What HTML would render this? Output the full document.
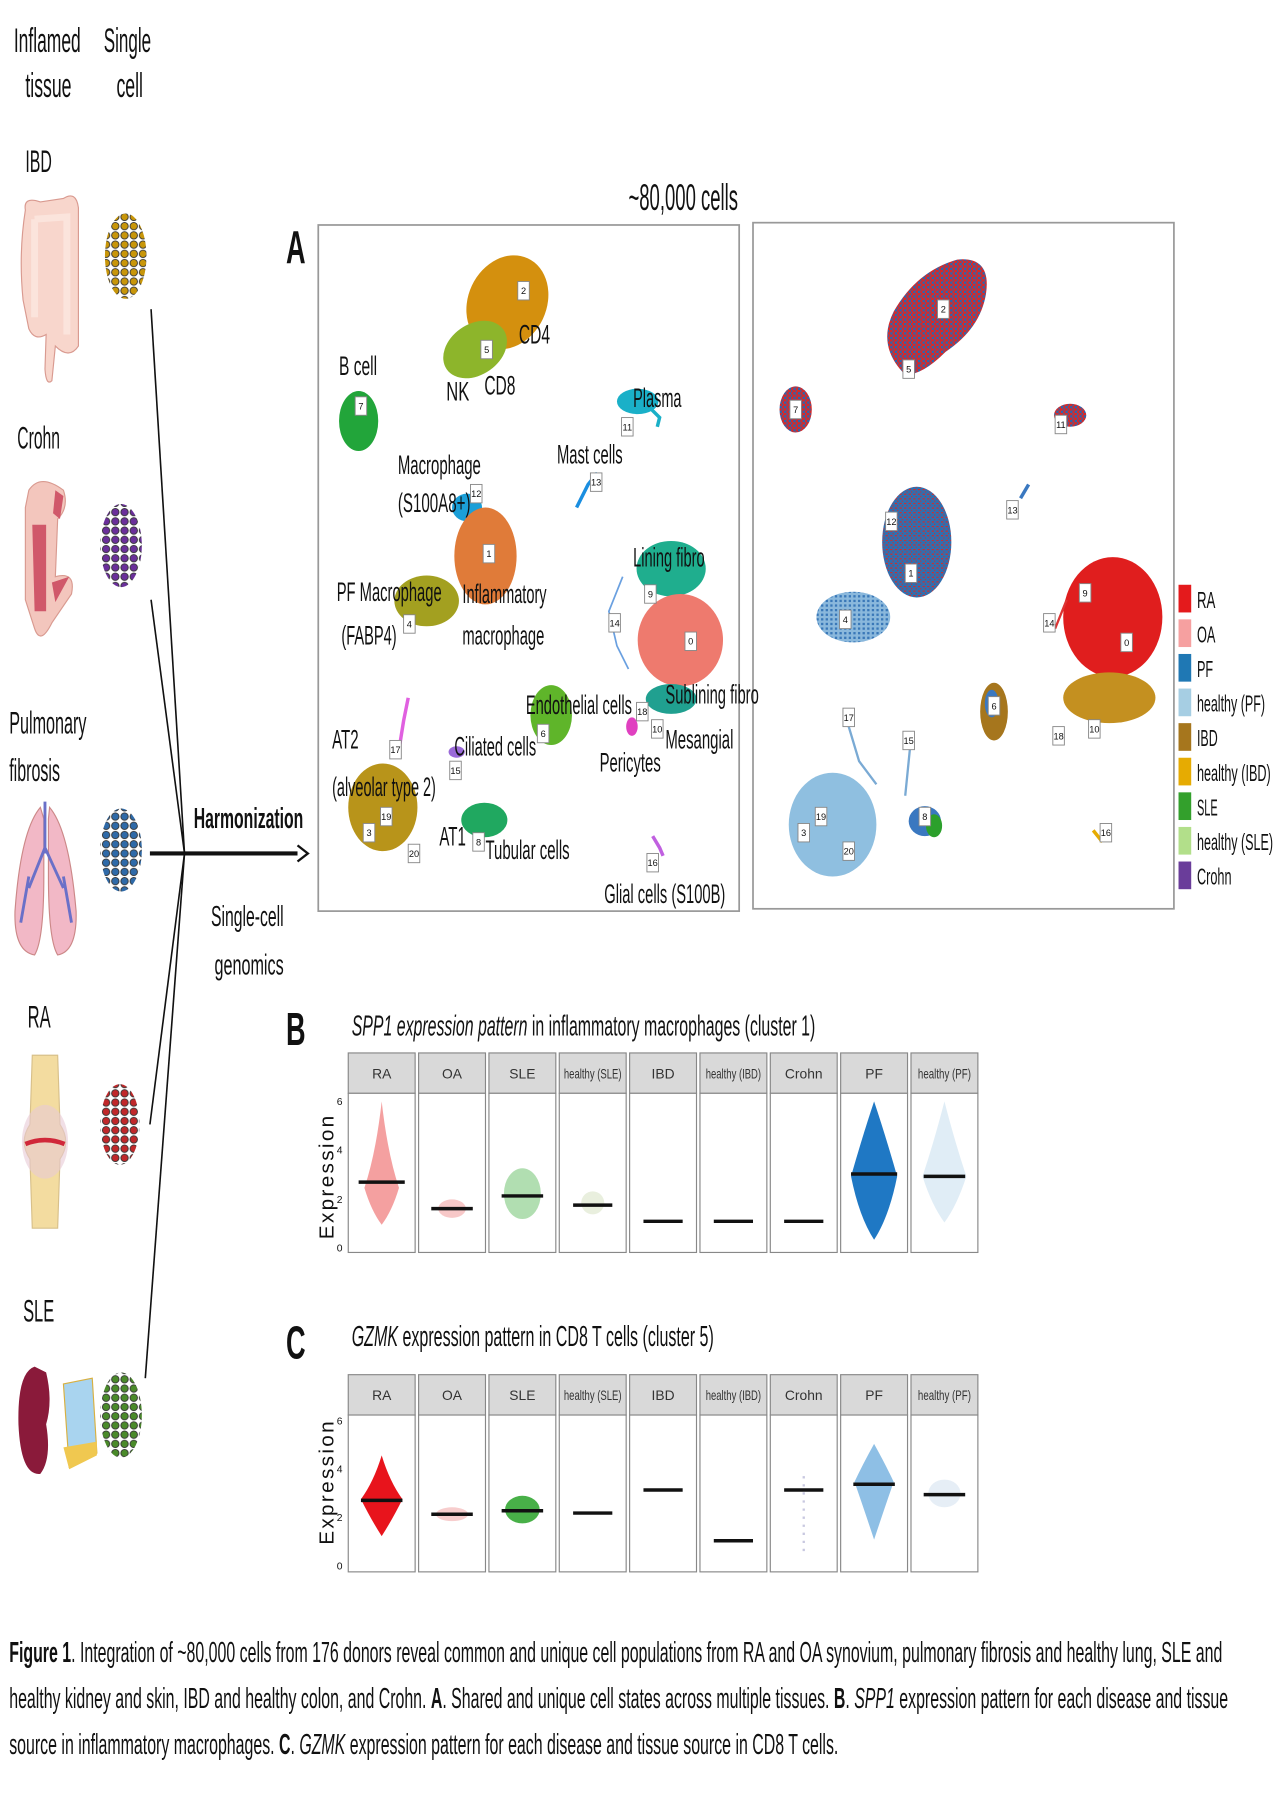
<!DOCTYPE html>
<html><head><meta charset="utf-8"><style>
html,body{margin:0;padding:0;background:#fff;}
svg{display:block;}
text{font-family:"Liberation Sans Narrow","Liberation Sans",sans-serif;fill:#111;}
.lb{font-size:23px;}
.nb rect{fill:#fff;stroke:#888;stroke-width:0.8;}
.nb text{font-size:8px;text-anchor:middle;}
.strip rect{fill:#d9d9d9;stroke:#888;stroke-width:1;}
.strip text{font-size:12px;text-anchor:middle;fill:#333;}
.pb{fill:#fff;stroke:#888;stroke-width:1;}
.tk{font-size:9px;fill:#555;}
</style></head><body>
<svg width="1280" height="1813" viewBox="0 0 1110 1572" xmlns="http://www.w3.org/2000/svg">
<defs>
<pattern id="pGold" width="8" height="8" patternUnits="userSpaceOnUse"><circle cx="4" cy="4" r="3.2" fill="#c8960a" stroke="#333" stroke-width="0.8"/></pattern>
<pattern id="pPurp" width="8" height="8" patternUnits="userSpaceOnUse"><circle cx="4" cy="4" r="3.2" fill="#6a2f9a" stroke="#333" stroke-width="0.8"/></pattern>
<pattern id="pBlue" width="8" height="8" patternUnits="userSpaceOnUse"><circle cx="4" cy="4" r="3.2" fill="#2f6aa8" stroke="#333" stroke-width="0.8"/></pattern>
<pattern id="pRed" width="8" height="8" patternUnits="userSpaceOnUse"><circle cx="4" cy="4" r="3.2" fill="#c0282a" stroke="#333" stroke-width="0.8"/></pattern>
<pattern id="pGreen" width="8" height="8" patternUnits="userSpaceOnUse"><circle cx="4" cy="4" r="3.2" fill="#4a8a2a" stroke="#333" stroke-width="0.8"/></pattern>
<pattern id="mixRB" width="4" height="4" patternUnits="userSpaceOnUse"><rect width="4" height="4" fill="#d42a2a"/><rect width="2" height="2" fill="#2a66b0"/><rect x="2" y="2" width="1" height="2" fill="#2a66b0"/></pattern>
<pattern id="mixBR" width="4" height="4" patternUnits="userSpaceOnUse"><rect width="4" height="4" fill="#2f6fb0"/><rect width="2" height="1" fill="#d42a2a"/><rect x="2" y="2" width="1" height="1" fill="#d42a2a"/></pattern>
<pattern id="mixLB" width="4" height="4" patternUnits="userSpaceOnUse"><rect width="4" height="4" fill="#8ab8dc"/><rect width="2" height="2" fill="#3a78b8"/></pattern>
</defs>

<!-- left headers -->
<text x="12" y="45" font-size="30" textLength="58" lengthAdjust="spacingAndGlyphs">Inflamed</text>
<text x="22" y="84" font-size="30" textLength="40" lengthAdjust="spacingAndGlyphs">tissue</text>
<text x="90" y="45" font-size="30" textLength="41" lengthAdjust="spacingAndGlyphs">Single</text>
<text x="101" y="84" font-size="30" textLength="23" lengthAdjust="spacingAndGlyphs">cell</text>

<text x="22" y="149" font-size="27" textLength="23" lengthAdjust="spacingAndGlyphs">IBD</text>
<text x="15" y="389" font-size="27" textLength="37" lengthAdjust="spacingAndGlyphs">Crohn</text>
<text x="8" y="636" font-size="27" textLength="67" lengthAdjust="spacingAndGlyphs">Pulmonary</text>
<text x="8" y="677" font-size="27" textLength="44" lengthAdjust="spacingAndGlyphs">fibrosis</text>
<text x="24" y="891" font-size="27" textLength="20" lengthAdjust="spacingAndGlyphs">RA</text>
<text x="20" y="1146" font-size="27" textLength="27" lengthAdjust="spacingAndGlyphs">SLE</text>

<!-- colon -->
<path d="M22 182 Q20 170 35 175 L55 172 Q66 165 68 180 L68 300 Q60 312 48 300 L45 330 Q40 335 39 320 L40 290 Q30 296 25 285 L20 260 Q16 220 22 182 Z" fill="#f8d6cc" stroke="#d99a90" stroke-width="1"/>
<path d="M30 190 L58 188 L58 290 M30 190 L30 275" fill="none" stroke="#fbe4dc" stroke-width="6"/>
<!-- crohn -->
<path d="M25 425 Q35 410 55 425 Q60 440 50 450 L48 500 Q66 495 62 515 L45 540 Q35 560 30 545 L22 520 L22 440 Z" fill="#f3c6bd" stroke="#d99a90" stroke-width="1"/>
<path d="M28 455 L40 455 L40 530 L30 530 Z M45 505 L60 500 L48 522 Z M48 425 L55 430 L52 450 L46 445Z" fill="#d0586a"/>
<!-- lungs -->
<path d="M35 700 Q18 720 13 790 Q12 825 30 828 Q38 815 38 760 L38 710 Z" fill="#f2b8c6" stroke="#c88" stroke-width="1"/>
<path d="M43 700 Q60 720 66 790 Q67 825 50 828 Q42 815 42 760 L42 710 Z" fill="#f2b8c6" stroke="#c88" stroke-width="1"/>
<path d="M39 695 L39 740 M39 735 L25 770 M39 735 L55 770 M25 760 L18 800 M55 760 L62 800" stroke="#6a70c8" stroke-width="2.5" fill="none"/>
<!-- joint -->
<path d="M28 915 L50 915 L52 975 Q62 990 52 1005 L50 1065 L28 1065 L26 1005 Q16 990 26 975 Z" fill="#f3dca0" stroke="#d8c08a"/>
<ellipse cx="39" cy="990" rx="20" ry="32" fill="#e8c9d6" opacity="0.6"/>
<path d="M22 992 Q39 985 56 992" stroke="#d0283a" stroke-width="4" fill="none"/>
<!-- kidney + skin -->
<path d="M30 1185 Q15 1190 16 1235 Q18 1280 35 1278 Q45 1265 40 1235 Q46 1215 40 1190 Z" fill="#8a1a3a"/>
<path d="M55 1200 L80 1195 L84 1260 L60 1272 Z" fill="#a9d4ef" stroke="#d8b040"/>
<path d="M55 1255 L84 1250 L84 1262 L60 1274 Z" fill="#f0c850"/>

<!-- cell clusters -->
<ellipse cx="109" cy="222" rx="18" ry="37" fill="url(#pGold)"/>
<ellipse cx="105" cy="473" rx="18" ry="36" fill="url(#pPurp)"/>
<ellipse cx="105" cy="737" rx="18" ry="36" fill="url(#pBlue)"/>
<ellipse cx="104" cy="975" rx="17" ry="35" fill="url(#pRed)"/>
<ellipse cx="105" cy="1227" rx="18" ry="37" fill="url(#pGreen)"/>

<!-- connector lines -->
<g stroke="#111" stroke-width="1.4" fill="none">
<line x1="131" y1="268" x2="160" y2="740"/>
<line x1="131" y1="520" x2="160" y2="740"/>
<line x1="130" y1="975" x2="160" y2="740"/>
<line x1="126" y1="1195" x2="160" y2="740"/>
</g>
<line x1="130" y1="740" x2="258" y2="740" stroke="#111" stroke-width="3.5"/>
<path d="M258 733 L267 740 L258 747" fill="none" stroke="#111" stroke-width="2"/>
<text x="168" y="718" font-size="25" font-weight="bold" textLength="95" lengthAdjust="spacingAndGlyphs">Harmonization</text>
<text x="183" y="803" font-size="25" textLength="63" lengthAdjust="spacingAndGlyphs">Single-cell</text>
<text x="186" y="845" font-size="25" textLength="60" lengthAdjust="spacingAndGlyphs">genomics</text>

<!-- Panel A -->
<text x="248" y="228" font-size="40" font-weight="bold" textLength="17" lengthAdjust="spacingAndGlyphs">A</text>
<text x="545" y="182" font-size="32" textLength="95" lengthAdjust="spacingAndGlyphs">~80,000 cells</text>
<rect x="276" y="195" width="365" height="595" fill="#fff" stroke="#999" stroke-width="1.5"/>
<rect x="653" y="193" width="365" height="595" fill="#fff" stroke="#999" stroke-width="1.5"/>

<!-- left UMAP blobs -->
<g>
<ellipse cx="440" cy="262" rx="34" ry="42" fill="#d4900e" transform="rotate(25 440 262)"/>
<ellipse cx="412" cy="303" rx="30" ry="22" fill="#8db52b" transform="rotate(-35 412 303)"/>
<ellipse cx="311" cy="365" rx="17" ry="26" fill="#22a53a"/>
<ellipse cx="553" cy="348" rx="18" ry="11" fill="#1ab0c8"/>
<path d="M560 350 L572 362 L570 370" stroke="#1ab0c8" stroke-width="3" fill="none"/>
<path d="M500 440 L510 420 L518 410" stroke="#1a8ee0" stroke-width="3" fill="none"/>
<ellipse cx="405" cy="440" rx="13" ry="12" fill="#1b9fd8"/>
<ellipse cx="421" cy="482" rx="27" ry="42" fill="#e07b39"/>
<ellipse cx="370" cy="521" rx="28" ry="22" fill="#a3a020"/>
<ellipse cx="582" cy="493" rx="30" ry="24" fill="#1fae8e"/>
<ellipse cx="590" cy="555" rx="37" ry="40" fill="#ee7a6e"/>
<ellipse cx="582" cy="606" rx="22" ry="13" fill="#20a090"/>
<path d="M540 500 L528 530 L535 560 L545 580" stroke="#6aa0e0" stroke-width="1.5" fill="none"/>
<ellipse cx="478" cy="620" rx="18" ry="26" fill="#5fb52a"/>
<ellipse cx="548" cy="630" rx="5" ry="8" fill="#e040c0"/>
<path d="M354 605 L350 625 L346 650" stroke="#e060e0" stroke-width="3" fill="none"/>
<ellipse cx="396" cy="652" rx="7" ry="5" fill="#9a6ad8"/>
<ellipse cx="332" cy="700" rx="30" ry="38" fill="#b8941a"/>
<ellipse cx="420" cy="711" rx="20" ry="15" fill="#20a860"/>
<path d="M566 725 L572 735 L575 742" stroke="#c060e0" stroke-width="3" fill="none"/>
</g>
<g class="nb">
<g transform="translate(454,252)"><rect x="-5" y="-8" width="10" height="16"/><text y="3">2</text></g>
<g transform="translate(422,303)"><rect x="-5" y="-8" width="10" height="16"/><text y="3">5</text></g>
<g transform="translate(313,352)"><rect x="-5" y="-8" width="10" height="16"/><text y="3">7</text></g>
<g transform="translate(544,370)"><rect x="-5" y="-8" width="10" height="16"/><text y="3">11</text></g>
<g transform="translate(517,418)"><rect x="-5" y="-8" width="10" height="16"/><text y="3">13</text></g>
<g transform="translate(413,428)"><rect x="-5" y="-8" width="10" height="16"/><text y="3">12</text></g>
<g transform="translate(424,480)"><rect x="-5" y="-8" width="10" height="16"/><text y="3">1</text></g>
<g transform="translate(355,541)"><rect x="-5" y="-8" width="10" height="16"/><text y="3">4</text></g>
<g transform="translate(564,515)"><rect x="-5" y="-8" width="10" height="16"/><text y="3">9</text></g>
<g transform="translate(533,540)"><rect x="-5" y="-8" width="10" height="16"/><text y="3">14</text></g>
<g transform="translate(599,556)"><rect x="-5" y="-8" width="10" height="16"/><text y="3">0</text></g>
<g transform="translate(557,617)"><rect x="-5" y="-8" width="10" height="16"/><text y="3">18</text></g>
<g transform="translate(570,632)"><rect x="-5" y="-8" width="10" height="16"/><text y="3">10</text></g>
<g transform="translate(471,636)"><rect x="-5" y="-8" width="10" height="16"/><text y="3">6</text></g>
<g transform="translate(343,650)"><rect x="-5" y="-8" width="10" height="16"/><text y="3">17</text></g>
<g transform="translate(395,668)"><rect x="-5" y="-8" width="10" height="16"/><text y="3">15</text></g>
<g transform="translate(335,708)"><rect x="-5" y="-8" width="10" height="16"/><text y="3">19</text></g>
<g transform="translate(320,722)"><rect x="-5" y="-8" width="10" height="16"/><text y="3">3</text></g>
<g transform="translate(359,740)"><rect x="-5" y="-8" width="10" height="16"/><text y="3">20</text></g>
<g transform="translate(415,730)"><rect x="-5" y="-8" width="10" height="16"/><text y="3">8</text></g>
<g transform="translate(566,748)"><rect x="-5" y="-8" width="10" height="16"/><text y="3">16</text></g>
</g>
<g class="lb">
<text x="450" y="298" textLength="27" lengthAdjust="spacingAndGlyphs">CD4</text>
<text x="387" y="347" textLength="20" lengthAdjust="spacingAndGlyphs">NK</text>
<text x="420" y="342" textLength="27" lengthAdjust="spacingAndGlyphs">CD8</text>
<text x="294" y="325" textLength="33" lengthAdjust="spacingAndGlyphs">B cell</text>
<text x="549" y="353" textLength="42" lengthAdjust="spacingAndGlyphs">Plasma</text>
<text x="483" y="402" textLength="57" lengthAdjust="spacingAndGlyphs">Mast cells</text>
<text x="345" y="411" textLength="72" lengthAdjust="spacingAndGlyphs">Macrophage</text>
<text x="345" y="444" textLength="63" lengthAdjust="spacingAndGlyphs">(S100A8+)</text>
<text x="401" y="523" textLength="73" lengthAdjust="spacingAndGlyphs">Inflammatory</text>
<text x="401" y="559" textLength="71" lengthAdjust="spacingAndGlyphs">macrophage</text>
<text x="292" y="521" textLength="91" lengthAdjust="spacingAndGlyphs">PF Macrophage</text>
<text x="296" y="559" textLength="48" lengthAdjust="spacingAndGlyphs">(FABP4)</text>
<text x="549" y="491" textLength="62" lengthAdjust="spacingAndGlyphs">Lining fibro</text>
<text x="577" y="610" textLength="81" lengthAdjust="spacingAndGlyphs">Sublining fibro</text>
<text x="577" y="649" textLength="59" lengthAdjust="spacingAndGlyphs">Mesangial</text>
<text x="456" y="619" textLength="92" lengthAdjust="spacingAndGlyphs">Endothelial cells</text>
<text x="520" y="669" textLength="53" lengthAdjust="spacingAndGlyphs">Pericytes</text>
<text x="394" y="655" textLength="71" lengthAdjust="spacingAndGlyphs">Ciliated cells</text>
<text x="288" y="649" textLength="23" lengthAdjust="spacingAndGlyphs">AT2</text>
<text x="288" y="690" textLength="90" lengthAdjust="spacingAndGlyphs">(alveolar type 2)</text>
<text x="381" y="733" textLength="23" lengthAdjust="spacingAndGlyphs">AT1</text>
<text x="421" y="745" textLength="73" lengthAdjust="spacingAndGlyphs">Tubular cells</text>
<text x="524" y="783" textLength="105" lengthAdjust="spacingAndGlyphs">Glial cells (S100B)</text>
</g>

<!-- right UMAP -->
<g>
<path d="M785 325 Q760 300 775 270 Q795 235 830 225 Q860 222 855 255 Q850 285 820 305 Q800 325 785 325Z" fill="url(#mixRB)"/>
<ellipse cx="690" cy="355" rx="14" ry="20" fill="url(#mixRB)"/>
<ellipse cx="928" cy="360" rx="14" ry="10" fill="url(#mixRB)"/>
<path d="M885 432 L892 420" stroke="#3a78c0" stroke-width="3"/>
<ellipse cx="795" cy="470" rx="30" ry="48" fill="url(#mixBR)"/>
<ellipse cx="740" cy="535" rx="32" ry="22" fill="url(#mixLB)"/>
<ellipse cx="965" cy="535" rx="43" ry="52" fill="#e01e1e"/>
<ellipse cx="962" cy="605" rx="40" ry="22" fill="#c49020"/>
<path d="M925 520 L915 545" stroke="#d33" stroke-width="2"/>
<ellipse cx="862" cy="617" rx="12" ry="25" fill="#a6761d"/>
<ellipse cx="860" cy="610" rx="6" ry="12" fill="#3a78c0"/>
<path d="M736 630 L745 660 L760 680 M790 640 L785 690" stroke="#7aaad4" stroke-width="2" fill="none"/>
<ellipse cx="722" cy="715" rx="38" ry="45" fill="#8fbfe0"/>
<ellipse cx="802" cy="712" rx="14" ry="13" fill="#3a78c0"/>
<ellipse cx="810" cy="716" rx="7" ry="10" fill="#2ca02c"/>
<path d="M948 720 L956 730" stroke="#e6ab02" stroke-width="3"/>
</g>
<g class="nb">
<g transform="translate(818,268)"><rect x="-5" y="-8" width="10" height="16"/><text y="3">2</text></g>
<g transform="translate(788,320)"><rect x="-5" y="-8" width="10" height="16"/><text y="3">5</text></g>
<g transform="translate(690,355)"><rect x="-5" y="-8" width="10" height="16"/><text y="3">7</text></g>
<g transform="translate(920,368)"><rect x="-5" y="-8" width="10" height="16"/><text y="3">11</text></g>
<g transform="translate(878,442)"><rect x="-5" y="-8" width="10" height="16"/><text y="3">13</text></g>
<g transform="translate(773,452)"><rect x="-5" y="-8" width="10" height="16"/><text y="3">12</text></g>
<g transform="translate(790,497)"><rect x="-5" y="-8" width="10" height="16"/><text y="3">1</text></g>
<g transform="translate(733,537)"><rect x="-5" y="-8" width="10" height="16"/><text y="3">4</text></g>
<g transform="translate(941,514)"><rect x="-5" y="-8" width="10" height="16"/><text y="3">9</text></g>
<g transform="translate(910,540)"><rect x="-5" y="-8" width="10" height="16"/><text y="3">14</text></g>
<g transform="translate(977,557)"><rect x="-5" y="-8" width="10" height="16"/><text y="3">0</text></g>
<g transform="translate(862,612)"><rect x="-5" y="-8" width="10" height="16"/><text y="3">6</text></g>
<g transform="translate(918,638)"><rect x="-5" y="-8" width="10" height="16"/><text y="3">18</text></g>
<g transform="translate(949,632)"><rect x="-5" y="-8" width="10" height="16"/><text y="3">10</text></g>
<g transform="translate(736,622)"><rect x="-5" y="-8" width="10" height="16"/><text y="3">17</text></g>
<g transform="translate(788,642)"><rect x="-5" y="-8" width="10" height="16"/><text y="3">15</text></g>
<g transform="translate(712,708)"><rect x="-5" y="-8" width="10" height="16"/><text y="3">19</text></g>
<g transform="translate(697,722)"><rect x="-5" y="-8" width="10" height="16"/><text y="3">3</text></g>
<g transform="translate(736,738)"><rect x="-5" y="-8" width="10" height="16"/><text y="3">20</text></g>
<g transform="translate(802,708)"><rect x="-5" y="-8" width="10" height="16"/><text y="3">8</text></g>
<g transform="translate(959,722)"><rect x="-5" y="-8" width="10" height="16"/><text y="3">16</text></g>
</g>

<!-- legend -->
<g font-size="20">
<rect x="1022" y="507" width="11" height="24" fill="#e41a1c"/><text x="1038" y="527" textLength="16" lengthAdjust="spacingAndGlyphs">RA</text>
<rect x="1022" y="537" width="11" height="24" fill="#f6a0a0"/><text x="1038" y="557" textLength="16" lengthAdjust="spacingAndGlyphs">OA</text>
<rect x="1022" y="567" width="11" height="24" fill="#1f78b4"/><text x="1038" y="587" textLength="14" lengthAdjust="spacingAndGlyphs">PF</text>
<rect x="1022" y="597" width="11" height="24" fill="#a6cee3"/><text x="1038" y="617" textLength="59" lengthAdjust="spacingAndGlyphs">healthy (PF)</text>
<rect x="1022" y="627" width="11" height="24" fill="#a6761d"/><text x="1038" y="647" textLength="18" lengthAdjust="spacingAndGlyphs">IBD</text>
<rect x="1022" y="657" width="11" height="24" fill="#e6ab02"/><text x="1038" y="677" textLength="64" lengthAdjust="spacingAndGlyphs">healthy (IBD)</text>
<rect x="1022" y="687" width="11" height="24" fill="#33a02c"/><text x="1038" y="707" textLength="18" lengthAdjust="spacingAndGlyphs">SLE</text>
<rect x="1022" y="717" width="11" height="24" fill="#b2df8a"/><text x="1038" y="737" textLength="66" lengthAdjust="spacingAndGlyphs">healthy (SLE)</text>
<rect x="1022" y="747" width="11" height="24" fill="#6a3d9a"/><text x="1038" y="767" textLength="30" lengthAdjust="spacingAndGlyphs">Crohn</text>
</g>

<!-- Panel B -->
<text x="248" y="906" font-size="40" font-weight="bold" textLength="17" lengthAdjust="spacingAndGlyphs">B</text>
<text x="305" y="898" font-size="25" textLength="402" lengthAdjust="spacingAndGlyphs"><tspan font-style="italic">SPP1 expression pattern</tspan> in inflammatory macrophages (cluster 1)</text>
<text x="0" y="0" font-size="18" fill="#333" transform="translate(289,1020) rotate(-90)" text-anchor="middle" letter-spacing="2">Expression</text>
<g class="tk"><text x="292" y="1085">0</text><text x="292" y="1043">2</text><text x="292" y="1000">4</text><text x="292" y="958">6</text></g>
<g class="strip">
<rect x="302" y="913" width="58" height="35"/><text x="331" y="935">RA</text>
<rect x="363" y="913" width="58" height="35"/><text x="392" y="935">OA</text>
<rect x="424" y="913" width="58" height="35"/><text x="453" y="935">SLE</text>
<rect x="485" y="913" width="58" height="35"/><text x="514" y="935" textLength="50" lengthAdjust="spacingAndGlyphs">healthy (SLE)</text>
<rect x="546" y="913" width="58" height="35"/><text x="575" y="935">IBD</text>
<rect x="607" y="913" width="58" height="35"/><text x="636" y="935" textLength="48" lengthAdjust="spacingAndGlyphs">healthy (IBD)</text>
<rect x="668" y="913" width="58" height="35"/><text x="697" y="935">Crohn</text>
<rect x="729" y="913" width="58" height="35"/><text x="758" y="935">PF</text>
<rect x="790" y="913" width="58" height="35"/><text x="819" y="935" textLength="46" lengthAdjust="spacingAndGlyphs">healthy (PF)</text>
</g>
<g>
<rect class="pb" x="302" y="948" width="58" height="138"/><rect class="pb" x="363" y="948" width="58" height="138"/><rect class="pb" x="424" y="948" width="58" height="138"/>
<rect class="pb" x="485" y="948" width="58" height="138"/><rect class="pb" x="546" y="948" width="58" height="138"/><rect class="pb" x="607" y="948" width="58" height="138"/>
<rect class="pb" x="668" y="948" width="58" height="138"/><rect class="pb" x="729" y="948" width="58" height="138"/><rect class="pb" x="790" y="948" width="58" height="138"/>
</g>
<path d="M331 955 Q326 1000 316 1030 Q322 1050 331 1062 Q340 1050 346 1030 Q336 1000 331 955Z" fill="#f08080" opacity="0.75"/>
<ellipse cx="392" cy="1048" rx="12" ry="8" fill="#f4b0b0" opacity="0.7"/>
<ellipse cx="453" cy="1035" rx="16" ry="22" fill="#90d090" opacity="0.7"/>
<ellipse cx="514" cy="1043" rx="10" ry="10" fill="#e0e8d0" opacity="0.7"/>
<path d="M758 955 Q748 985 738 1020 Q745 1055 758 1075 Q771 1055 778 1020 Q768 985 758 955Z" fill="#1f78c4"/>
<path d="M819 955 Q810 990 800 1020 Q808 1045 819 1060 Q830 1045 838 1020 Q828 990 819 955Z" fill="#d8e8f4" opacity="0.8"/>
<g stroke="#111" stroke-width="3">
<line x1="311" y1="1025" x2="351" y2="1025"/><line x1="374" y1="1048" x2="410" y2="1048"/><line x1="435" y1="1037" x2="471" y2="1037"/>
<line x1="497" y1="1045" x2="531" y2="1045"/><line x1="558" y1="1059" x2="592" y2="1059"/><line x1="619" y1="1059" x2="653" y2="1059"/>
<line x1="680" y1="1059" x2="714" y2="1059"/><line x1="738" y1="1018" x2="778" y2="1018"/><line x1="801" y1="1020" x2="837" y2="1020"/>
</g>

<!-- Panel C -->
<text x="248" y="1178" font-size="40" font-weight="bold" textLength="17" lengthAdjust="spacingAndGlyphs">C</text>
<text x="305" y="1167" font-size="25" textLength="314" lengthAdjust="spacingAndGlyphs"><tspan font-style="italic">GZMK</tspan> expression pattern in CD8 T cells (cluster 5)</text>
<text x="0" y="0" font-size="18" fill="#333" transform="translate(289,1285) rotate(-90)" text-anchor="middle" letter-spacing="2">Expression</text>
<g class="tk"><text x="292" y="1361">0</text><text x="292" y="1319">2</text><text x="292" y="1277">4</text><text x="292" y="1235">6</text></g>
<g class="strip">
<rect x="302" y="1192" width="58" height="35"/><text x="331" y="1214">RA</text>
<rect x="363" y="1192" width="58" height="35"/><text x="392" y="1214">OA</text>
<rect x="424" y="1192" width="58" height="35"/><text x="453" y="1214">SLE</text>
<rect x="485" y="1192" width="58" height="35"/><text x="514" y="1214" textLength="50" lengthAdjust="spacingAndGlyphs">healthy (SLE)</text>
<rect x="546" y="1192" width="58" height="35"/><text x="575" y="1214">IBD</text>
<rect x="607" y="1192" width="58" height="35"/><text x="636" y="1214" textLength="48" lengthAdjust="spacingAndGlyphs">healthy (IBD)</text>
<rect x="668" y="1192" width="58" height="35"/><text x="697" y="1214">Crohn</text>
<rect x="729" y="1192" width="58" height="35"/><text x="758" y="1214">PF</text>
<rect x="790" y="1192" width="58" height="35"/><text x="819" y="1214" textLength="46" lengthAdjust="spacingAndGlyphs">healthy (PF)</text>
</g>
<g>
<rect class="pb" x="302" y="1227" width="58" height="136"/><rect class="pb" x="363" y="1227" width="58" height="136"/><rect class="pb" x="424" y="1227" width="58" height="136"/>
<rect class="pb" x="485" y="1227" width="58" height="136"/><rect class="pb" x="546" y="1227" width="58" height="136"/><rect class="pb" x="607" y="1227" width="58" height="136"/>
<rect class="pb" x="668" y="1227" width="58" height="136"/><rect class="pb" x="729" y="1227" width="58" height="136"/><rect class="pb" x="790" y="1227" width="58" height="136"/>
</g>
<path d="M331 1262 Q324 1285 313 1300 Q322 1318 331 1332 Q340 1318 349 1300 Q338 1285 331 1262Z" fill="#e8141c"/>
<ellipse cx="392" cy="1313" rx="14" ry="6" fill="#f4b8b8" opacity="0.7"/>
<ellipse cx="453" cy="1309" rx="15" ry="12" fill="#48b048"/>
<path d="M758 1252 Q748 1270 741 1285 Q748 1305 758 1335 Q768 1305 775 1285 Q768 1270 758 1252Z" fill="#7ab4e0" opacity="0.85"/>
<ellipse cx="819" cy="1295" rx="14" ry="12" fill="#e0eaf4" opacity="0.8"/>
<path d="M697 1280 L697 1350" stroke="#c8c8e0" stroke-width="2" stroke-dasharray="2 5"/>
<g stroke="#111" stroke-width="3">
<line x1="313" y1="1301" x2="349" y2="1301"/><line x1="374" y1="1313" x2="410" y2="1313"/><line x1="435" y1="1310" x2="471" y2="1310"/>
<line x1="497" y1="1312" x2="531" y2="1312"/><line x1="558" y1="1292" x2="592" y2="1292"/><line x1="619" y1="1336" x2="653" y2="1336"/>
<line x1="680" y1="1292" x2="714" y2="1292"/><line x1="740" y1="1287" x2="776" y2="1287"/><line x1="801" y1="1296" x2="837" y2="1296"/>
</g>

<!-- caption -->
<text x="8" y="1441" font-size="25" textLength="1052" lengthAdjust="spacingAndGlyphs"><tspan font-weight="bold">Figure 1</tspan>. Integration of ~80,000 cells from 176 donors reveal common and unique cell populations from RA and OA synovium, pulmonary fibrosis and healthy lung, SLE and</text>
<text x="8" y="1481" font-size="25" textLength="1057" lengthAdjust="spacingAndGlyphs">healthy kidney and skin, IBD and healthy colon, and Crohn. <tspan font-weight="bold">A</tspan>. Shared and unique cell states across multiple tissues. <tspan font-weight="bold">B</tspan>. <tspan font-style="italic">SPP1</tspan> expression pattern for each disease and tissue</text>
<text x="8" y="1521" font-size="25" textLength="719" lengthAdjust="spacingAndGlyphs">source in inflammatory macrophages. <tspan font-weight="bold">C</tspan>. <tspan font-style="italic">GZMK</tspan> expression pattern for each disease and tissue source in CD8 T cells.</text>
</svg>
</body></html>
